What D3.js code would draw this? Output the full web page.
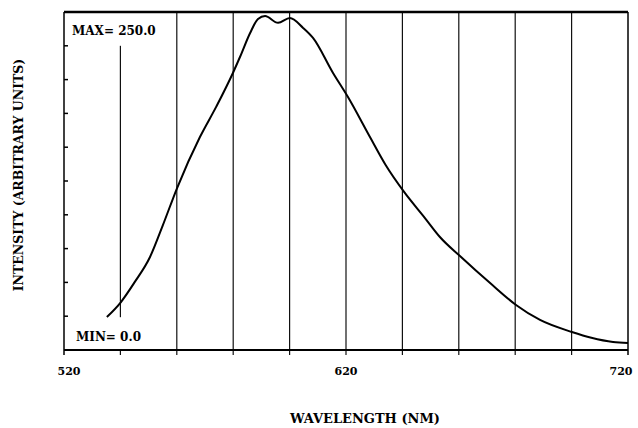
<!DOCTYPE html>
<html>
<head>
<meta charset="utf-8">
<script src="https://cdn.jsdelivr.net/npm/d3@7"></script>
<style>
  body { margin: 0; background: #fff; }
  text { font-family: 'DejaVu Serif', 'Liberation Serif', serif; font-weight: bold; fill: #000; }
</style>
</head>
<body>
<svg id="chart" width="638" height="428"></svg>
<script>
// values
const wavelength = [535.2, 540.2, 545.0, 550.5, 555.0, 560.1, 568.2, 574.0, 579.9, 582.4, 586.0, 588.8, 591.3, 595.9, 600.1, 604.8, 608.3, 615.4, 620.7, 628.5, 634.0, 640.6, 648.0, 653.3, 660.8, 671.1, 680.3, 688.8, 700.1, 707.0, 714.7, 720.0];
const intensity = [24.4, 35.5, 50.0, 68.8, 92.0, 119.8, 157.5, 180.0, 204.9, 216.7, 234.5, 244.8, 247.0, 242.0, 245.5, 238.2, 230.8, 204.9, 187.1, 157.5, 137.0, 116.9, 97.6, 83.6, 68.8, 49.5, 33.3, 22.2, 13.3, 9.0, 5.9, 5.2];
const gridWl = [540, 560, 580, 600, 620, 640, 660, 680, 700];
const xTickLabels = [520, 620, 720];
const yTicks = [0, 25, 50, 75, 100, 125, 150, 175, 200, 225, 250];

const pLeft = 64, pRight = 628, pTop = 12, pBottom = 350;

const x = d3.scaleLinear().domain([520, 720]).range([pLeft, pRight]);
const y = d3.scaleLinear().domain([0, 250]).range([pBottom, pTop]);

const svg = d3.select('#chart');

/* Gridlines */
svg.selectAll('line.grid').data(gridWl).enter()
  .append('line').attr('class', 'grid')
  .attr('x1', d => x(d)).attr('x2', d => x(d))
  .attr('y1', y(250)).attr('y2', y(0) + 5)
  .attr('stroke', '#111').attr('stroke-width', 1.2);

/* Y ticks (inside) */
svg.selectAll('line.ytick').data(yTicks).enter()
  .append('line').attr('class', 'ytick')
  .attr('x1', pLeft).attr('x2', pLeft + 4)
  .attr('y1', d => y(d)).attr('y2', d => y(d))
  .attr('stroke', '#000').attr('stroke-width', 1.5);

/* Label boxes that cut the first gridline */
svg.append('rect')
  .attr('x', pLeft + 5).attr('y', y(250) + 1)
  .attr('width', 96).attr('height', y(225) - y(250) - 1)
  .attr('fill', '#fff');
svg.append('rect')
  .attr('x', pLeft + 5).attr('y', y(25) + 1)
  .attr('width', 85).attr('height', y(0) - y(25) - 2)
  .attr('fill', '#fff');

/* Curve */
const pts = wavelength.map((w, i) => [w, intensity[i]]);
svg.append('path')
  .datum(pts)
  .attr('fill', 'none')
  .attr('stroke', '#000')
  .attr('stroke-width', 2)
  .attr('stroke-linejoin', 'round')
  .attr('d', d3.line().x(d => x(d[0])).y(d => y(d[1])).curve(d3.curveMonotoneX));

/* Frame */
svg.append('line').attr('x1', pLeft).attr('x2', pRight).attr('y1', pTop).attr('y2', pTop)
  .attr('stroke', '#000').attr('stroke-width', 2.5);
svg.append('line').attr('x1', pLeft).attr('x2', pRight).attr('y1', pBottom).attr('y2', pBottom)
  .attr('stroke', '#000').attr('stroke-width', 2);
svg.append('line').attr('x1', pLeft).attr('x2', pLeft).attr('y1', pTop).attr('y2', pBottom + 5)
  .attr('stroke', '#000').attr('stroke-width', 1.5);
svg.append('line').attr('x1', pRight).attr('x2', pRight).attr('y1', pTop).attr('y2', pBottom + 5)
  .attr('stroke', '#000').attr('stroke-width', 1.5);

/* X tick labels */
svg.selectAll('text.xlab').data(xTickLabels).enter()
  .append('text').attr('class', 'xlab')
  .attr('x', (d, i) => i === 0 ? x(d) + 5 : i === 2 ? x(d) - 7 : x(d))
  .attr('y', 375)
  .attr('text-anchor', 'middle')
  .style('font-size', '11px')
  .text(d => d);

/* MAX / MIN */
svg.append('text').attr('x', 72).attr('y', 35).style('font-size', '12px').text('MAX= 250.0');
svg.append('text').attr('x', 76).attr('y', 341).style('font-size', '12px').text('MIN= 0.0');

/* Axis titles */
svg.append('text').attr('x', 365).attr('y', 423).attr('text-anchor', 'middle')
  .style('font-size', '13px').text('WAVELENGTH (NM)');
svg.append('text').attr('transform', 'translate(23,175) rotate(-90)').attr('text-anchor', 'middle')
  .style('font-size', '12.5px').text('INTENSITY (ARBITRARY UNITS)');
</script>
</body>
</html>
